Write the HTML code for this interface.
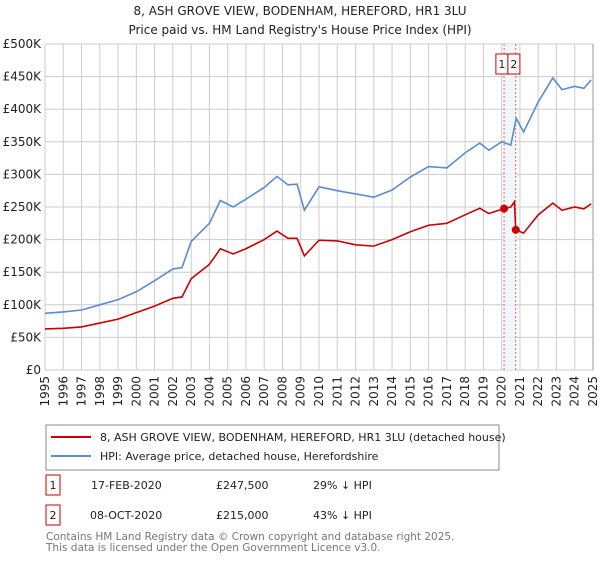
<!DOCTYPE html>
<html><head><meta charset="utf-8">
<style>
body{margin:0;background:#fff;font-family:"DejaVu Sans","Liberation Sans",sans-serif;}
svg text{font-family:"DejaVu Sans","Liberation Sans",sans-serif;}
</style></head>
<body>
<svg id="chart" width="600" height="560" viewBox="0 0 600 560" xmlns="http://www.w3.org/2000/svg">
<text x="300" y="15" font-size="12" text-anchor="middle" fill="#222">8, ASH GROVE VIEW, BODENHAM, HEREFORD, HR1 3LU</text>
<text x="300" y="34" font-size="12" text-anchor="middle" fill="#222">Price paid vs. HM Land Registry's House Price Index (HPI)</text>
<g id="grid"></g>
<g id="marks"></g>
<g id="axes"></g>
<g>
<rect x="46" y="425" width="453" height="45" fill="#fff" stroke="#888"/>
<line x1="51" y1="437" x2="91" y2="437" stroke="#cc0000" stroke-width="2"/>
<text x="100" y="441" font-size="11" fill="#222">8, ASH GROVE VIEW, BODENHAM, HEREFORD, HR1 3LU (detached house)</text>
<line x1="51" y1="456" x2="91" y2="456" stroke="#5b8bd0" stroke-width="2"/>
<text x="100" y="460" font-size="11" fill="#222">HPI: Average price, detached house, Herefordshire</text>
</g>
<g font-size="11" fill="#222">
<rect x="46" y="475" width="14" height="20" fill="#fff" stroke="#cc0000"/>
<text x="53" y="489" text-anchor="middle">1</text>
<text x="91" y="489">17-FEB-2020</text>
<text x="216" y="489">£247,500</text>
<text x="313" y="489">29% ↓ HPI</text>
</g>
<g font-size="11" fill="#222">
<rect x="46" y="505" width="14" height="20" fill="#fff" stroke="#cc0000"/>
<text x="53" y="519" text-anchor="middle">2</text>
<text x="90" y="519">08-OCT-2020</text>
<text x="216" y="519">£215,000</text>
<text x="313" y="519">43% ↓ HPI</text>
</g>
<text x="46" y="540" font-size="10.5" fill="#777">Contains HM Land Registry data © Crown copyright and database right 2025.</text>
<text x="46" y="551" font-size="10.5" fill="#777">This data is licensed under the Open Government Licence v3.0.</text>
</svg>
<script>
const hpiYears=[1995,1996,1997,1998,1999,2000,2001,2002,2002.5,2003,2004,2004.6,2005.3,2006,2007,2007.7,2008.3,2008.8,2009.2,2010,2011,2012,2013,2014,2015,2016,2017,2018,2018.8,2019.3,2020,2020.5,2020.8,2021.2,2022,2022.8,2023.3,2024,2024.5,2024.9];
const hpiValues=[87000,89000,92000,100000,108000,120000,137000,155000,157000,197000,225000,260000,250000,262000,280000,297000,284000,285000,245000,281000,275000,270000,265000,276000,296000,312000,310000,333000,348000,337000,350000,345000,386000,365000,411000,448000,430000,435000,432000,445000];
const priceYears=[1995,1996,1997,1998,1999,2000,2001,2002,2002.5,2003,2004,2004.6,2005.3,2006,2007,2007.7,2008.3,2008.8,2009.2,2010,2011,2012,2013,2014,2015,2016,2017,2018,2018.8,2019.3,2020.13,2020.5,2020.7,2020.77,2021.2,2022,2022.8,2023.3,2024,2024.5,2024.9];
const priceValues=[63000,64000,66000,72000,78000,88000,98000,110000,112000,140000,162000,186000,178000,186000,200000,213000,202000,202000,175000,199000,198000,192000,190000,200000,212000,222000,225000,238000,248000,240000,247500,250000,258000,215000,210000,238000,256000,245000,250000,247000,255000];
const saleYears=[2020.13,2020.77];
const saleValues=[247500,215000];
const saleLabels=["1","2"];
const yTicks=[0,50000,100000,150000,200000,250000,300000,350000,400000,450000,500000];
const yTickLabels=["£0","£50K","£100K","£150K","£200K","£250K","£300K","£350K","£400K","£450K","£500K"];
const xTicks=[1995,1996,1997,1998,1999,2000,2001,2002,2003,2004,2005,2006,2007,2008,2009,2010,2011,2012,2013,2014,2015,2016,2017,2018,2019,2020,2021,2022,2023,2024,2025];

const NS="http://www.w3.org/2000/svg";
const X0=45,X1=593,Y0=370,Y1=44;
const xs=y=>X0+(y-1995)/(2025-1995)*(X1-X0);
const ys=v=>Y0-v/500000*(Y0-Y1);
function mk(tag,attrs,parent){const e=document.createElementNS(NS,tag);for(const k in attrs)e.setAttribute(k,attrs[k]);parent.appendChild(e);return e;}
const grid=document.getElementById('grid'),marks=document.getElementById('marks'),axes=document.getElementById('axes');
yTicks.forEach((v,i)=>{
 const l=mk('line',{x1:X0,x2:X1,y1:ys(v),y2:ys(v),stroke:'#ccc','stroke-width':1},grid);
 
 
 const t=mk('text',{x:X0-4,y:ys(v)+4,'font-size':12,'text-anchor':'end',fill:'#222'},axes);
 t.textContent=yTickLabels[i];
 
 
});
xTicks.forEach(y=>{
 const l=mk('line',{x1:xs(y),x2:xs(y),y1:Y1,y2:Y0,stroke:'#ccc','stroke-width':1},grid);
 
 
 const t=mk('text',{x:0,y:0,'font-size':12,'text-anchor':'end',fill:'#222',transform:`translate(${xs(y)+4},${Y0+6}) rotate(-90)`},axes);
 t.textContent=String(y);
 
 
});
const band=mk('rect',{x:xs(saleYears[0]),y:Y1,width:xs(saleYears[1])-xs(saleYears[0]),height:Y0-Y1,fill:'#eef2fb',opacity:0.8},grid);


saleYears.forEach((y,i)=>{
 const l=mk('line',{x1:xs(y),x2:xs(y),y1:Y1,y2:Y0,stroke:'#f06060','stroke-dasharray':'2,2'},grid);
 
 
});
const hp=mk('polyline',{points:hpiYears.map((y,i)=>xs(y)+','+ys(hpiValues[i])).join(' '),fill:'none',stroke:'#5b8bd0','stroke-width':1.6},marks);


const pp=mk('polyline',{points:priceYears.map((y,i)=>xs(y)+','+ys(priceValues[i])).join(' '),fill:'none',stroke:'#cc0000','stroke-width':1.6},marks);


const mid=(xs(saleYears[0])+xs(saleYears[1]))/2-2;
saleYears.forEach((y,i)=>{
 const c=mk('circle',{cx:xs(y),cy:ys(saleValues[i]),r:4,fill:'#cc0000'},marks);
 
 
 const bx=i===0?mid-12:mid;
 const r=mk('rect',{x:bx,y:54,width:12,height:20,fill:'#fff',stroke:'#cc0000'},marks);
 
 
 const t=mk('text',{x:bx+6,y:68,'font-size':11,'text-anchor':'middle',fill:'#222'},marks);
 t.textContent=saleLabels[i];
 
 
});
const ax=mk('line',{x1:X1,x2:X1,y1:Y1,y2:Y0,stroke:'#999'},axes);


</script>
</body></html>
